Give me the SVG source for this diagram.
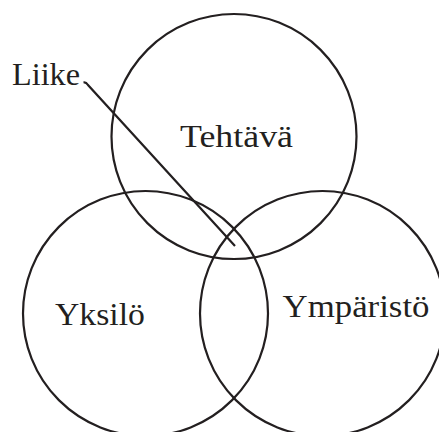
<svg xmlns="http://www.w3.org/2000/svg" width="439" height="432" viewBox="0 0 439 432">
<style>
.c{fill:none;stroke:#231f20;stroke-width:2.2}
.t{font-family:"Liberation Serif","Times New Roman",serif;font-size:32.5px;fill:#231f20}
</style>
<rect width="439" height="432" fill="#ffffff"/>
<g id="tehtava"><circle class="c" cx="234" cy="136.5" r="122.5"/><text class="t" x="180" y="146.7" textLength="113" lengthAdjust="spacingAndGlyphs">Tehtävä</text></g>
<g id="yksilo"><circle class="c" cx="145.5" cy="313.5" r="122.5"/><text class="t" x="55" y="325" textLength="90" lengthAdjust="spacingAndGlyphs">Yksilö</text></g>
<g id="ymparisto"><circle class="c" cx="322.5" cy="313.5" r="122.5"/><text class="t" x="282.5" y="316.7" textLength="147" lengthAdjust="spacingAndGlyphs">Ympäristö</text></g>
<g id="liike"><text class="t" x="12" y="85" textLength="68" lengthAdjust="spacingAndGlyphs">Liike</text></g>
<g id="connectors"><path class="c" d="M83.5 82.5 Q86 82 88 85 L235 246"/></g>
</svg>
